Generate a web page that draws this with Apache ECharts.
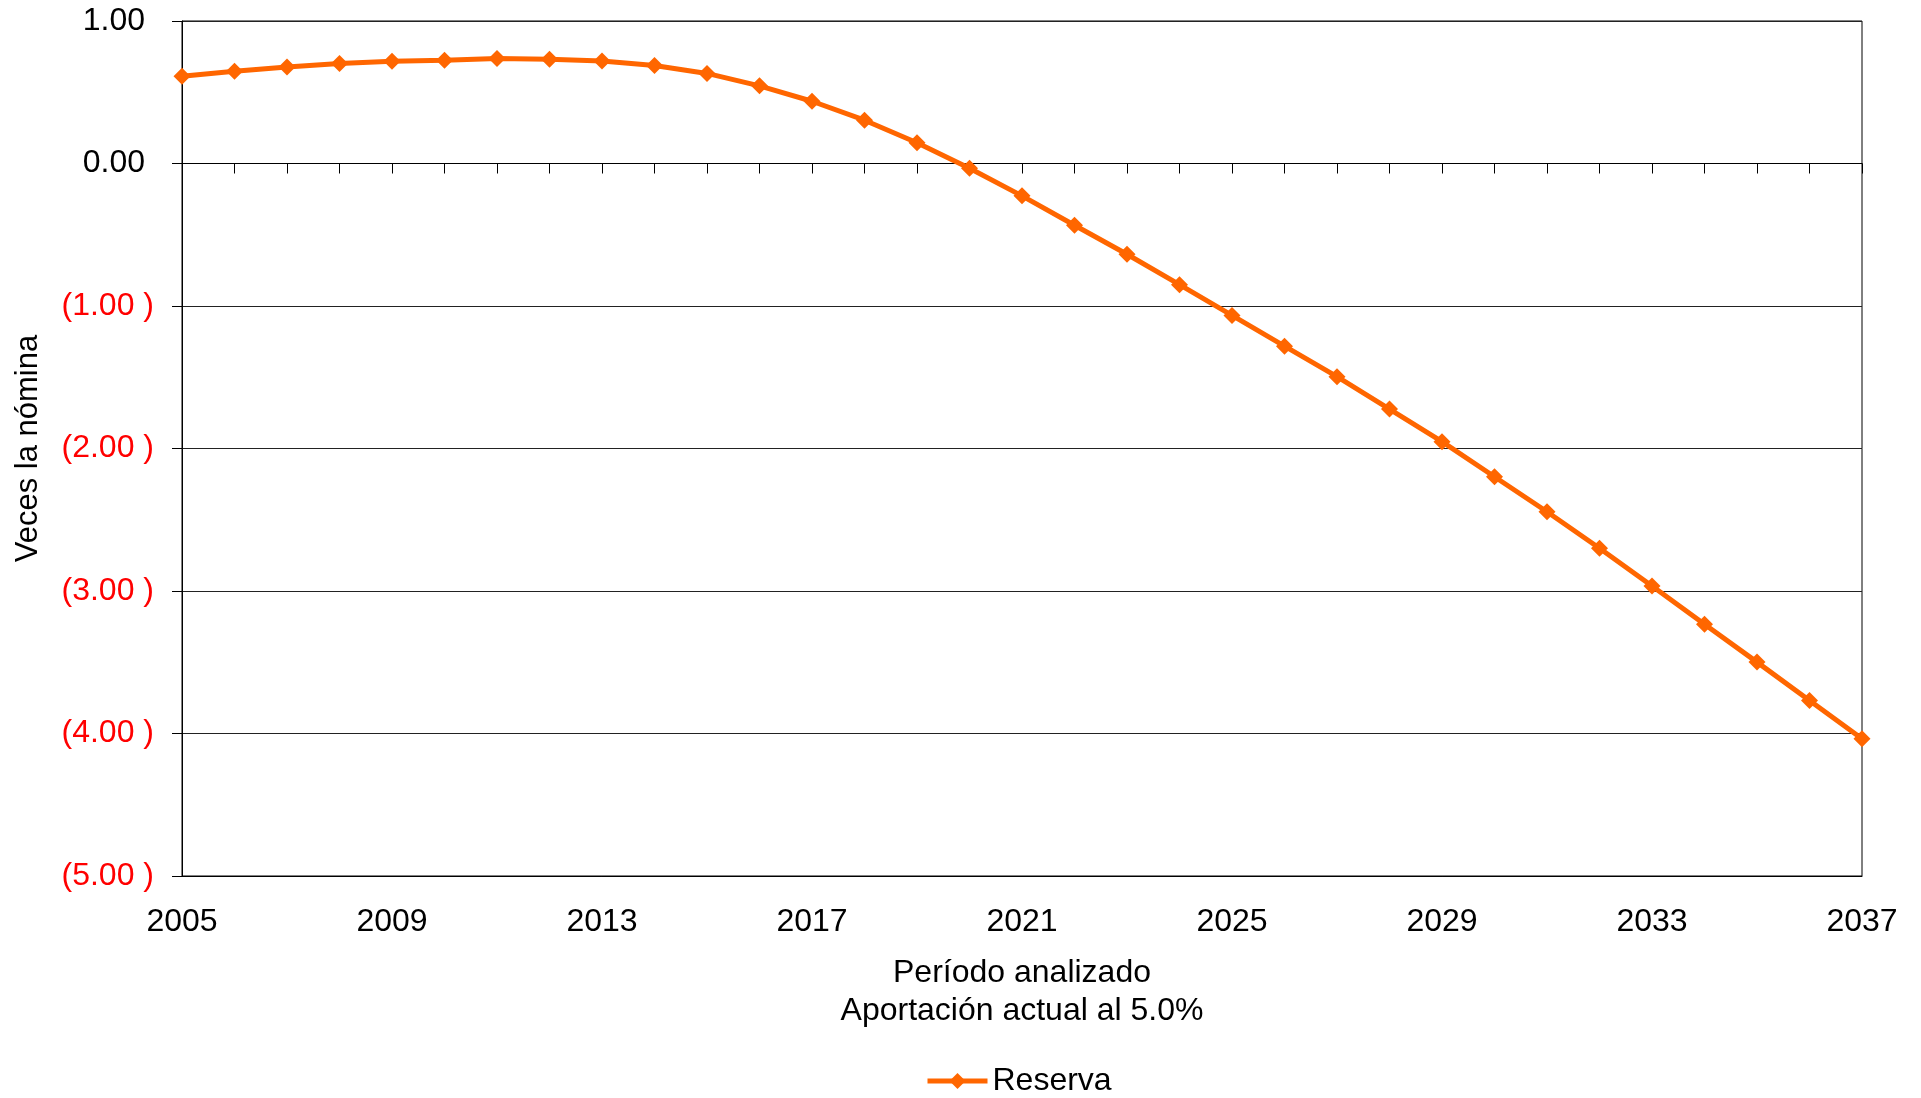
<!DOCTYPE html>
<html>
<head>
<meta charset="utf-8">
<script src="https://cdn.jsdelivr.net/npm/echarts@6/dist/echarts.min.js"></script>
<style>
html,body{margin:0;padding:0;background:#fff;}
#chart{width:1921px;height:1098px;}
</style>
</head>
<body>
<div id="chart"></div>
<script>
const years = [2005,2006,2007,2008,2009,2010,2011,2012,2013,2014,2015,2016,2017,2018,2019,2020,2021,2022,2023,2024,2025,2026,2027,2028,2029,2030,2031,2032,2033,2034,2035,2036,2037];
const reserva = [0.613,0.648,0.678,0.702,0.718,0.725,0.737,0.732,0.720,0.688,0.632,0.545,0.437,0.304,0.146,-0.033,-0.227,-0.433,-0.637,-0.850,-1.066,-1.282,-1.496,-1.723,-1.952,-2.198,-2.444,-2.700,-2.965,-3.234,-3.499,-3.768,-4.037];
const seriesName = 'Reserva';
const yAxisTitle = 'Veces la nómina';
const xAxisTitle = 'Período analizado\nAportación actual al 5.0%';

const FONT = 'Liberation Sans, Arial, sans-serif';
const FS = 32;
const chart = echarts.init(document.getElementById('chart'));
chart.setOption({
  animation: false,
  backgroundColor: '#ffffff',
  textStyle: { fontFamily: FONT },
  grid: { left: 182, right: 59, top: 21, bottom: 222, show: true, borderColor: '#000', borderWidth: 1, backgroundColor: 'transparent' },
  legend: {
    data: [seriesName], top: 1065, left: 925, padding: 0,
    itemWidth: 60, itemHeight: 20, itemGap: 10,
    lineStyle: { width: 5, color: '#ff6600' },
    itemStyle: { color: '#ff6600' },
    textStyle: { fontSize: FS, color: '#000', fontFamily: FONT }
  },
  xAxis: [
    {
      type: 'value', min: 2005, max: 2037, interval: 4, position: 'bottom',
      axisLine: { show: true, onZero: false, lineStyle: { color: '#000', width: 1 } },
      axisTick: { show: false },
      splitLine: { show: false },
      axisLabel: { show: true, margin: 30, fontSize: FS, color: '#000', fontFamily: FONT, formatter: v => String(v) },
      name: xAxisTitle, nameLocation: 'middle', nameGap: 78,
      nameTextStyle: { fontSize: FS, color: '#000', lineHeight: 38, fontFamily: FONT }
    },
    {
      type: 'value', min: 2005, max: 2037, interval: 1, position: 'bottom',
      axisLine: { show: true, onZero: true, lineStyle: { color: '#000', width: 1 } },
      axisTick: { show: true, length: 10, inside: false, lineStyle: { color: '#000', width: 1 } },
      splitLine: { show: false },
      axisLabel: { show: false }
    }
  ],
  yAxis: {
    type: 'value', min: -5, max: 1, interval: 1,
    axisLine: { show: true, lineStyle: { color: '#000', width: 1 } },
    axisTick: { show: true, length: 10, lineStyle: { color: '#000', width: 1 } },
    splitLine: { show: true, lineStyle: { color: '#222', width: 1 } },
    axisLabel: {
      margin: 28, fontSize: FS, fontFamily: FONT,
      formatter: v => v >= 0 ? '{p|' + v.toFixed(2) + '}{s|}' : '{n|(' + Math.abs(v).toFixed(2) + ' )}',
      rich: {
        p: { color: '#000', fontSize: FS, fontFamily: FONT },
        s: { width: 9 },
        n: { color: '#ff0000', fontSize: FS, fontFamily: FONT }
      }
    },
    name: yAxisTitle, nameLocation: 'middle', nameRotate: 90, nameGap: 138,
    nameTextStyle: { fontSize: 31, color: '#000', fontFamily: FONT }
  },
  series: [{
    name: seriesName, type: 'line', xAxisIndex: 0,
    data: years.map((y, i) => [y, reserva[i]]),
    symbol: 'diamond', symbolSize: 17,
    lineStyle: { color: '#ff6600', width: 5 },
    itemStyle: { color: '#ff6600' },
    clip: false
  }]
});
</script>
</body>
</html>
